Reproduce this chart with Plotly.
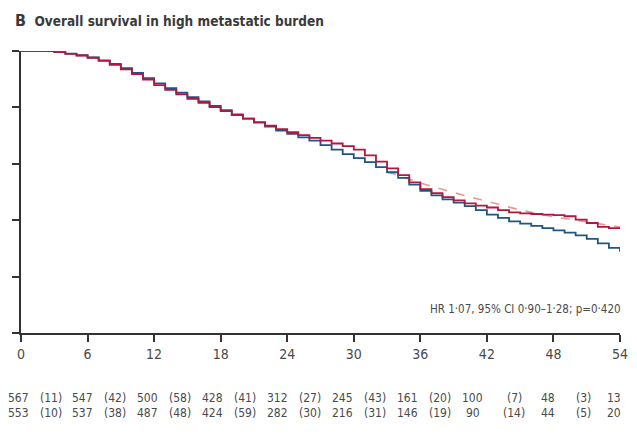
import plotly.graph_objects as go

# ---- data ----
months = list(range(0, 55))
surv_red = [100, 100, 100, 99.6, 99.0, 98.4, 97.6, 96.5, 95.1, 93.5,
            91.8, 89.9, 87.9, 86.2, 84.6, 83.0, 81.6, 80.1, 78.7, 77.3,
            76.0, 74.8, 73.5, 72.3, 71.2, 70.2, 69.2, 68.2, 67.2, 66.3,
            65.0, 63.0, 60.8, 58.4, 56.0, 53.4, 51.0, 49.6, 48.2, 47.0,
            46.0, 45.2, 44.5, 43.6, 42.8, 42.4, 42.2, 42.0, 41.8, 41.4,
            40.2, 39.0, 37.6, 37.2, 37.2]
surv_blue = [100, 100, 100, 99.6, 99.1, 98.5, 97.7, 96.7, 95.4, 93.9,
             92.2, 90.4, 88.5, 86.8, 85.2, 83.6, 82.1, 80.5, 79.0, 77.5,
             76.0, 74.6, 73.2, 71.8, 70.6, 69.4, 68.2, 66.6, 65.0, 63.4,
             62.0, 60.6, 58.8, 57.0, 55.0, 52.6, 50.4, 48.8, 47.4, 46.2,
             45.0, 43.6, 42.0, 40.8, 39.6, 38.8, 38.0, 37.2, 36.4, 35.6,
             34.6, 33.4, 31.8, 30.2, 28.8]
dash_months = [33, 36, 39, 42, 45, 48, 51, 54]
dash_surv = [57.2, 53.2, 49.8, 46.6, 43.6, 41.2, 39.3, 37.6]

x_ticks = [0, 6, 12, 18, 24, 30, 36, 42, 48, 54]
y_ticks = [0, 20, 40, 60, 80, 100]

risk_row1 = ["567", "(11)", "547", "(42)", "500", "(58)", "428", "(41)", "312", "(27)",
             "245", "(43)", "161", "(20)", "100", "(7)", "48", "(3)", "13"]
risk_row2 = ["553", "(10)", "537", "(38)", "487", "(48)", "424", "(59)", "282", "(30)",
             "216", "(31)", "146", "(19)", "90", "(14)", "44", "(5)", "20"]

title_letter = "B"
title_text = "Overall survival in high metastatic burden"
hr_text = "HR 1·07, 95% CI 0·90–1·28; p=0·420"

# ---- layout constants ----
W, H = 637, 434
L, R, T, B = 21, 9, 51, 101
PW, PH = W - L - R, H - T - B
FONT = "DejaVu Sans Condensed, Liberation Sans Narrow, Arial Narrow, sans-serif"
RED = "#b3173f"
BLUE = "#1f5485"
DASH = "#e59a8e"
GREY = "#4a4a4a"

def px_x(px):
    return (px - L) / PW

def px_y(py):
    return (H - B - py) / PH

fig = go.Figure()
fig.add_trace(go.Scatter(x=dash_months, y=dash_surv, mode="lines",
                         line=dict(color=DASH, width=1.6, dash="dash"),
                         cliponaxis=False, showlegend=False, hoverinfo="skip"))
fig.add_trace(go.Scatter(x=months, y=surv_blue, mode="lines",
                         line=dict(color=BLUE, width=1.8, shape="hv"),
                         cliponaxis=False, showlegend=False))
fig.add_trace(go.Scatter(x=months, y=surv_red, mode="lines",
                         line=dict(color=RED, width=1.8, shape="hv"),
                         cliponaxis=False, showlegend=False))

annotations = []
annotations.append(dict(
    x=px_x(13), y=px_y(20), xref="paper", yref="paper", xanchor="left", yanchor="middle",
    text=f"<b><span style='font-size:16px'>{title_letter}</span>  {title_text}</b>",
    showarrow=False, font=dict(family=FONT, size=13.5, color="#3a3a3a")))
annotations.append(dict(
    x=px_x(631), y=px_y(309), xref="paper", yref="paper", xanchor="right", yanchor="middle",
    text=hr_text, showarrow=False, font=dict(family=FONT, size=11.5, color=GREY)))

# positions of the at-risk tokens (pixel centres)
tok_x = [18 + 32.9 * i for i in range(15)] + [521, 555, 591, 622]
for row, py in ((risk_row1, 398), (risk_row2, 413)):
    for tok, px in zip(row, tok_x):
        annotations.append(dict(
            x=px_x(px), y=px_y(py), xref="paper", yref="paper",
            xanchor="center", yanchor="middle", text=tok, showarrow=False,
            font=dict(family=FONT, size=12, color=GREY)))

fig.update_layout(
    width=W, height=H,
    margin=dict(l=L, r=R, t=T, b=B, pad=0),
    paper_bgcolor="white", plot_bgcolor="white",
    annotations=annotations,
    xaxis=dict(range=[0, 54], tickmode="array", tickvals=x_ticks,
               ticktext=[str(v) for v in x_ticks],
               showline=True, linecolor="#333333", linewidth=1.5,
               ticks="outside", ticklen=7, tickwidth=1.5, tickcolor="#333333",
               showgrid=False, zeroline=False,
               tickfont=dict(family=FONT, size=14, color=GREY)),
    yaxis=dict(range=[0, 100], tickmode="array", tickvals=y_ticks,
               ticktext=["" for _ in y_ticks],
               showline=True, linecolor="#333333", linewidth=1.5,
               ticks="outside", ticklen=7, tickwidth=1.5, tickcolor="#333333",
               showgrid=False, zeroline=False),
)

fig.write_html("out.html")
